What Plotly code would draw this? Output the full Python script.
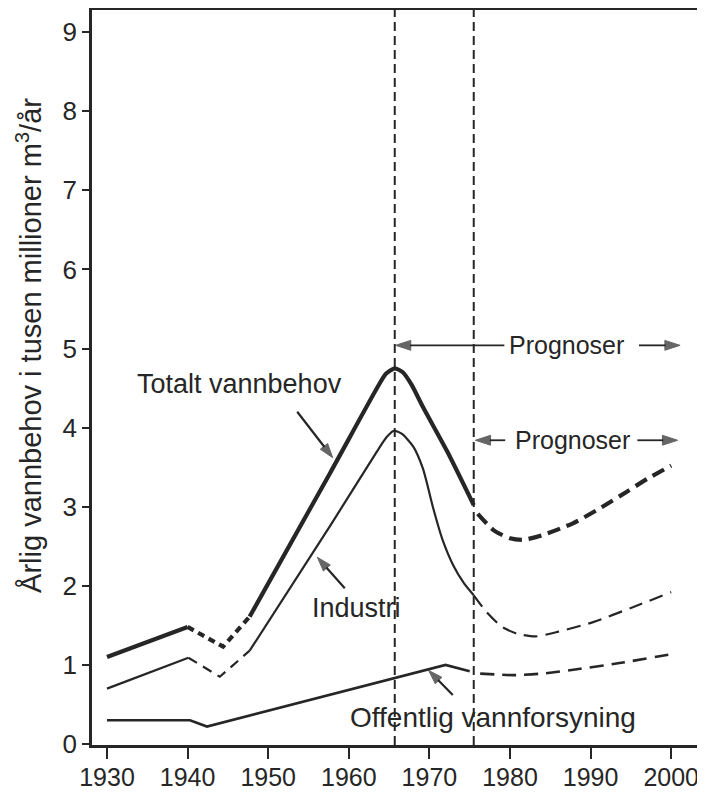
import plotly.graph_objects as go

# ---- data ----
x_ticks = [1930, 1940, 1950, 1960, 1970, 1980, 1990, 2000]
y_ticks = [0, 1, 2, 3, 4, 5, 6, 7, 8, 9]

# Totalt vannbehov
total_a_x = [1930, 1940]
total_a_y = [1.10, 1.48]
total_b_x = [1940, 1944.4, 1947.7]
total_b_y = [1.48, 1.23, 1.61]
total_c_x = [1947.7, 1957.7, 1963.5, 1964.6, 1965.7, 1966.7, 1967.8, 1969.2, 1972.2, 1975.5]
total_c_y = [1.61, 3.43, 4.50, 4.68, 4.75, 4.70, 4.54, 4.26, 3.70, 3.02]
total_d_x = [1976.0, 1978.0, 1980.0, 1981.6, 1984.0, 1987.8, 1991.0, 1994.5, 1997.0, 2000.0]
total_d_y = [2.91, 2.70, 2.60, 2.58, 2.64, 2.79, 2.97, 3.19, 3.35, 3.52]

# Industri
ind_a_x = [1930, 1940.1]
ind_a_y = [0.70, 1.09]
ind_b_x = [1940.1, 1944.0, 1947.7]
ind_b_y = [1.09, 0.85, 1.18]
ind_c_x = [1947.7, 1957.7, 1963.5, 1964.7, 1965.6, 1966.6, 1968.0, 1969.2, 1970.5, 1971.6, 1973.0, 1974.3, 1975.5]
ind_c_y = [1.18, 2.76, 3.70, 3.88, 3.96, 3.92, 3.76, 3.48, 2.97, 2.59, 2.25, 2.03, 1.88]
ind_d_x = [1975.5, 1977.0, 1979.0, 1981.0, 1983.2, 1986.0, 1990.3, 1995.0, 2000.0]
ind_d_y = [1.88, 1.68, 1.48, 1.39, 1.36, 1.42, 1.54, 1.72, 1.92]

# Offentlig vannforsyning
off_a_x = [1930, 1940.3, 1942.4, 1972.0, 1975.0]
off_a_y = [0.30, 0.30, 0.22, 1.00, 0.92]
off_b_x = [1976.3, 1980.4, 1984.0, 1988.7, 1994.0, 2000.3]
off_b_y = [0.89, 0.87, 0.89, 0.95, 1.03, 1.14]

vline_years = [1965.7, 1975.5]

INK = "#262626"
FONT = "Liberation Sans, Arial, sans-serif"

fig = go.Figure()

def add(xs, ys, width, dash="solid", shape="linear"):
    fig.add_trace(go.Scatter(
        x=xs, y=ys, mode="lines",
        line=dict(color=INK, width=width, dash=dash, shape=shape, smoothing=0.6),
        showlegend=False, hoverinfo="skip"))

add(total_a_x, total_a_y, 4.2)
add(total_b_x, total_b_y, 4.2, dash="7px,5px")
add(total_c_x, total_c_y, 4.2, shape="spline")
add(total_d_x, total_d_y, 4.2, dash="13px,7px", shape="spline")

add(ind_a_x, ind_a_y, 2.2)
add(ind_b_x, ind_b_y, 2.2, dash="10px,7px")
add(ind_c_x, ind_c_y, 2.2, shape="spline")
add(ind_d_x, ind_d_y, 2.2, dash="14px,8px", shape="spline")

add(off_a_x, off_a_y, 2.6)
add(off_b_x, off_b_y, 2.6, dash="14px,8px", shape="spline")

for vx in vline_years:
    fig.add_shape(type="line", xref="x", yref="paper", x0=vx, x1=vx, y0=0, y1=1,
                  line=dict(color=INK, width=2, dash="9px,5px"))

def arrow(x_head, y_head, x_tail, y_tail, width=2.2, size=15):
    fig.add_trace(go.Scatter(
        x=[x_tail, x_head], y=[y_tail, y_head], mode="lines+markers",
        line=dict(color=INK, width=width),
        marker=dict(symbol="arrow", size=[0, size], angleref="previous", color=INK,
                    line=dict(width=1, color=INK)),
        showlegend=False, hoverinfo="skip"))

def label(x, y, text, size=27):
    fig.add_annotation(x=x, y=y, xref="x", yref="y", text=text, showarrow=False,
                       font=dict(family=FONT, size=size, color=INK),
                       xanchor="center", yanchor="middle")

label(1946.5, 4.55, "Totalt vannbehov", 27)
arrow(1958.0, 3.62, 1953.6, 4.20)

label(1961.0, 1.72, "Industri", 27)
arrow(1956.1, 2.36, 1959.5, 1.97)

label(1977.9, 0.34, "Offentlig vannforsyning", 28)
arrow(1969.9, 0.93, 1972.9, 0.62)

label(1987.0, 5.04, "Prognoser", 25)
arrow(1965.8, 5.04, 1979.3, 5.04, 1.8, 16)
arrow(2001.1, 5.04, 1996.0, 5.04, 1.8, 16)

label(1987.7, 3.84, "Prognoser", 25)
arrow(1975.7, 3.84, 1979.4, 3.84, 1.8, 16)
arrow(2000.8, 3.84, 1995.8, 3.84, 1.8, 16)

fig.add_annotation(xref="paper", yref="paper", x=-0.104, y=0.544,
                   text="Årlig vannbehov i tusen millioner m<sup>3</sup>/år",
                   textangle=-90, showarrow=False,
                   font=dict(family=FONT, size=29, color=INK),
                   xanchor="center", yanchor="middle")

fig.update_xaxes(range=[1928.14, 2003.57], tickvals=x_ticks, ticktext=[str(v) for v in x_ticks],
                 ticks="outside", ticklen=11, tickwidth=2, tickcolor=INK,
                 ticklabelstandoff=-3, automargin=False,
                 showline=True, linewidth=2.5, linecolor=INK, mirror=True,
                 showgrid=False, zeroline=False,
                 tickfont=dict(family=FONT, size=25, color=INK))
fig.update_yaxes(range=[-0.013, 9.28], tickvals=y_ticks, ticktext=[str(v) for v in y_ticks],
                 ticks="outside", ticklen=7, tickwidth=2, tickcolor=INK,
                 automargin=False,
                 showline=True, linewidth=2.5, linecolor=INK, mirror=True,
                 showgrid=False, zeroline=False,
                 tickfont=dict(family=FONT, size=26, color=INK))

# the page body adds an 8px offset, so the figure is 8px smaller than the window
fig.update_layout(template="none", width=697, height=790,
                  margin=dict(l=84, r=5, t=2, b=53),
                  paper_bgcolor="white", plot_bgcolor="white")

fig.write_html("out.html")
